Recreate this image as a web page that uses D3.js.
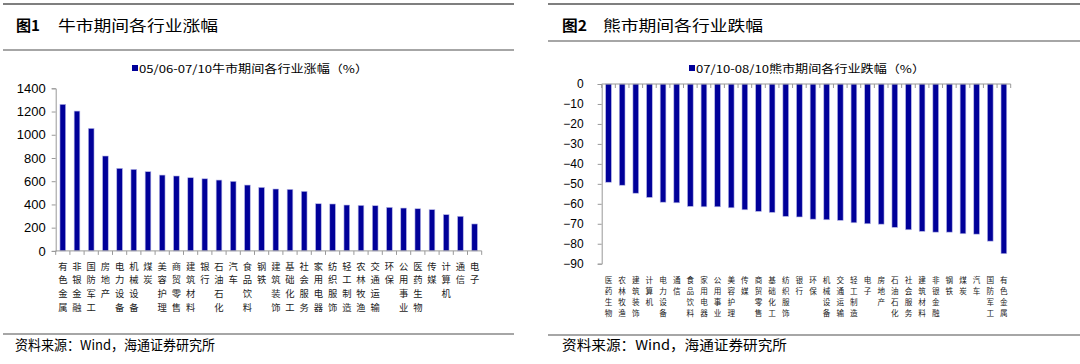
<!DOCTYPE html>
<html><head><meta charset="utf-8">
<script src="https://cdn.jsdelivr.net/npm/d3@7"></script>
<style>
html,body{margin:0;padding:0;background:#fff;}
svg{display:block;}
</style></head>
<body>
<svg id="c" width="1080" height="364"></svg>
<script>
// ---- data ----
const bullCategories = ["有色金属","非银金融","国防军工","房地产","电力设备","机械设备","煤炭","美容护理","商贸零售","建筑材料","银行","石油石化","汽车","食品饮料","钢铁","建筑装饰","基础化工","社会服务","家用电器","纺织服饰","轻工制造","农林牧渔","交通运输","环保","公用事业","医药生物","传媒","计算机","通信","电子"];
const bullValues = [1262,1204,1055,817,711,702,682,653,645,630,621,610,599,567,547,533,530,513,406,404,395,392,389,375,369,363,355,312,298,232];
const bullTicks = [0,200,400,600,800,1000,1200,1400];

const bearCategories = ["医药生物","农林牧渔","建筑装饰","计算机","电力设备","通信","食品饮料","家用电器","公用事业","美容护理","传媒","商贸零售","基础化工","纺织服饰","银行","环保","机械设备","交通运输","轻工制造","电子","房地产","石油石化","社会服务","建筑材料","非银金融","钢铁","煤炭","汽车","国防军工","有色金属"];
const bearValues = [-49.2,-50.7,-54.7,-56.8,-59.2,-59.5,-61.3,-61.5,-61.5,-62.0,-63.0,-63.8,-64.3,-66.3,-66.6,-67.7,-68.0,-68.3,-69.5,-70.0,-70.2,-71.8,-73.0,-73.8,-74.2,-74.2,-75.0,-75.2,-78.7,-85.0];
const bearTicks = [0,-10,-20,-30,-40,-50,-60,-70,-80,-90];

const titles = ["牛市期间各行业涨幅","熊市期间各行业跌幅"];
const legends = ["05/06-07/10牛市期间各行业涨幅（%）","07/10-08/10熊市期间各行业跌幅（%）"];
const source = "资料来源：Wind，海通证券研究所";

// ---- drawing ----
const svg = d3.select("#c");
const BAR = "#000099";
const CJK = "'Noto Sans CJK SC','Noto Sans',sans-serif";
const LAT = "'Liberation Sans',Arial,sans-serif";

function hline(x1,x2,y,color,w){
  svg.append("line").attr("x1",x1).attr("x2",x2).attr("y1",y).attr("y2",y)
    .attr("stroke",color).attr("stroke-width",w);
}
function fitText(g,x,y,txt,len,size,family,weight,anchor){
  return g.append("text").attr("x",x).attr("y",y).attr("font-size",size)
    .attr("font-family",family).attr("font-weight",weight||"normal")
    .attr("dominant-baseline","central").attr("text-anchor",anchor||"start")
    .attr("textLength",len).attr("lengthAdjust","spacingAndGlyphs").attr("fill","#000").text(txt);
}

// frame lines
hline(3,514,4,"#555",1.5);
hline(548,1080,4,"#555",1.5);
hline(3,514,50,"#888",1.5);
hline(548,1080,41,"#888",1.5);
hline(3,514,334,"#888",1.5);
hline(548,1080,335,"#888",1.5);

// titles
fitText(svg,16,24,"图1",24,15,CJK,"bold");
fitText(svg,58,24,titles[0],160,15,CJK,"normal");
fitText(svg,562,24,"图2",25,15,CJK,"bold");
fitText(svg,603,24,titles[1],160,15,CJK,"normal");
// footers
fitText(svg,15,344,source,200,13.5,CJK,"normal");
fitText(svg,562,344,source,225,13.5,CJK,"normal");

function drawPanel(o){
  const g = svg.append("g");
  const x = d3.scaleBand().domain(o.cats).range([o.x0,o.x1]).padding(0);
  const y = d3.scaleLinear().domain(o.domain).range(o.yrange);
  const step = x.step(), bw = step*o.barFrac;
  // bars
  g.selectAll("rect.bar").data(o.vals).join("rect")
    .attr("x",(d,i)=>x(o.cats[i])+(step-bw)/2)
    .attr("y",d=>Math.min(y(d),y(0)))
    .attr("width",bw)
    .attr("height",d=>Math.abs(y(d)-y(0)))
    .attr("fill",BAR).attr("stroke","#b8b8e8").attr("stroke-width",0.6);
  // y axis
  const ya = d3.axisLeft(y).tickValues(o.ticks).tickSize(4).tickPadding(o.tickPad).tickFormat(d3.format("d"));
  const yg = g.append("g").attr("transform",`translate(${o.x0},0)`).call(ya);
  yg.select(".domain").attr("stroke","#999");
  yg.selectAll(".tick line").attr("stroke","#999");
  yg.selectAll(".tick text").attr("font-family",LAT).attr("font-size",o.tickFont).attr("fill","#000");
  // x axis line + boundary ticks
  const ay = y(0);
  g.append("line").attr("x1",o.x0).attr("x2",o.x1).attr("y1",ay).attr("y2",ay).attr("stroke","#999");
  const bounds = o.cats.map(c=>x(c)).concat([o.x1]);
  g.selectAll("line.xt").data(bounds).join("line")
    .attr("x1",d=>d).attr("x2",d=>d).attr("y1",ay).attr("y2",ay+4).attr("stroke","#999");
  // category labels (one char per row, stacked)
  o.cats.forEach(c=>{
    const cx = x(c)+step/2;
    Array.from(c).forEach((ch,k)=>{
      g.append("text").attr("x",cx).attr("y",o.labY0+k*o.labDy)
        .attr("text-anchor","middle").attr("dominant-baseline","central")
        .attr("font-family",CJK).attr("font-size",o.labFont).attr("fill","#222").text(ch);
    });
  });
  // legend
  g.append("rect").attr("x",o.legX).attr("y",o.legY-3).attr("width",6).attr("height",6).attr("fill",BAR);
  fitText(g,o.legX+7,o.legY,o.legend,o.legLen,11,CJK,"normal");
}

drawPanel({cats:bullCategories,vals:bullValues,ticks:bullTicks,domain:[0,1400],yrange:[250.9,88.3],
  x0:55.7,x1:481.7,barFrac:0.4,tickPad:6,tickFont:13,labY0:265.5,labDy:13.7,labFont:9.3,
  legX:132,legY:68,legend:legends[0],legLen:229});
drawPanel({cats:bearCategories,vals:bearValues,ticks:bearTicks,domain:[-90,0],yrange:[263.7,84],
  x0:601.7,x1:1010.7,barFrac:0.42,tickPad:14,tickFont:12,labY0:279,labDy:11.2,labFont:7.6,
  legX:689,legY:68,legend:legends[1],legLen:229});
</script>
</body></html>
